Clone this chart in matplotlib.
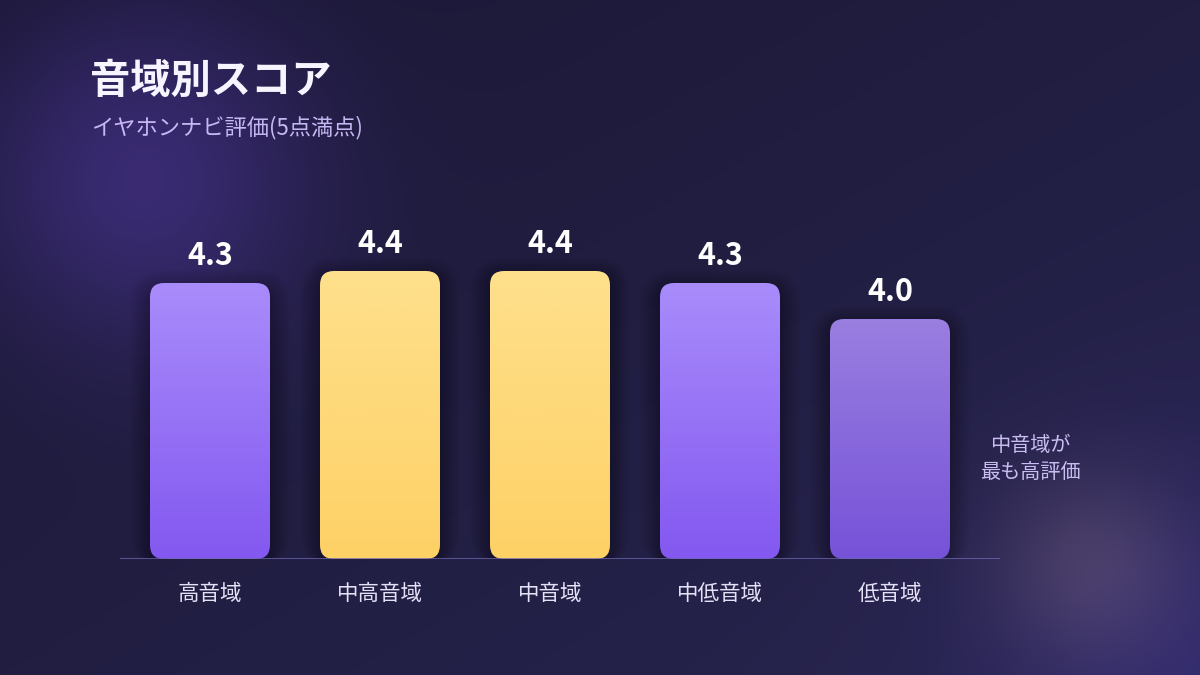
import numpy as np
import matplotlib
matplotlib.use("Agg")
import matplotlib.pyplot as plt
from matplotlib.patches import FancyBboxPatch
from matplotlib.colors import LinearSegmentedColormap

plt.rcParams['font.family'] = ['Noto Sans CJK JP', 'DejaVu Sans']

# データ
categories = ['高音域', '中高音域', '中音域', '中低音域', '低音域']
scores = [4.3, 4.4, 4.4, 4.3, 4.0]
# 棒の色 (上, 下)
bar_colors = [('#a98cfb', '#8358f0'), ('#fee08c', '#fed166'), ('#fee08c', '#fed166'),
              ('#a98cfb', '#8358f0'), ('#9a7fe0', '#7652d8')]

title = '音域別スコア'
subtitle = 'イヤホンナビ評価(5点満点)'
note = '中音域が\n最も高評価'

W, H = 1200, 675
fig = plt.figure(figsize=(12, 6.75), dpi=100)

# 背景のグラデーション
bg = fig.add_axes([0, 0, 1, 1])
yy, xx = np.mgrid[0:H, 0:W]
t = (xx / W * 0.5 + yy / H * 0.5)
base_a = np.array([26, 23, 52]) / 255
base_b = np.array([40, 37, 80]) / 255
img = base_a[None, None, :] * (1 - t[..., None]) + base_b[None, None, :] * t[..., None]
# 左上の紫の光
d1 = np.sqrt((xx - 140) ** 2 + (yy - 175) ** 2)
g1 = np.exp(-(d1 / 170) ** 2)
img += g1[..., None] * (np.array([58, 42, 115]) / 255 - base_a)[None, None, :] * 0.9
# 右下の光
d2 = np.sqrt((xx - 1090) ** 2 + (yy - 565) ** 2)
g2 = np.exp(-(d2 / 95) ** 2)
img += g2[..., None] * np.array([30, 24, 14]) / 255
d3 = np.sqrt((xx - 1200) ** 2 + (yy - 675) ** 2)
g3 = np.exp(-(d3 / 220) ** 2)
img += g3[..., None] * np.array([10, 6, 28]) / 255
bg.imshow(np.clip(img, 0, 1), extent=[0, W, H, 0], aspect='auto')
bg.set_xlim(0, W)
bg.set_ylim(H, 0)
bg.axis('off')

# グラフ領域 (x: 120-1000px, y: 199-559px)
ax = fig.add_axes([120 / W, 1 - 559 / H, 880 / W, 360 / H])
ax.patch.set_alpha(0)
ax.set_xlim(-90 / 170, 4 + 110 / 170)
ax.set_ylim(2.0, 5.0)
for s in ax.spines.values():
    s.set_visible(False)
ax.set_xticks([])
ax.set_yticks([])

bw = 120 / 170
r = 14 / 170
asp = 170 / 120
x = np.arange(len(categories))

for i, (v, (c_top, c_bot)) in enumerate(zip(scores, bar_colors)):
    x0 = x[i] - bw / 2
    # 影
    for k in range(12):
        e = k * 1.8 / 170
        sh = FancyBboxPatch((x0 - e, 2.0 - 6 / 120), bw + 2 * e, v - 2.0 + e * asp,
                            boxstyle=f'round,pad=0,rounding_size={r + e}',
                            mutation_aspect=asp, fc='black', ec='none', alpha=0.018, zorder=1)
        ax.add_patch(sh)
    p = FancyBboxPatch((x0, 2.0), bw, v - 2.0, boxstyle=f'round,pad=0,rounding_size={r}',
                       mutation_aspect=asp, fc='none', ec='none', zorder=2)
    ax.add_patch(p)
    cmap = LinearSegmentedColormap.from_list('g', [c_bot, c_top])
    grad = np.linspace(0, 1, 256).reshape(-1, 1)
    im = ax.imshow(grad, cmap=cmap, origin='lower', extent=[x0, x0 + bw, 2.0, v],
                   aspect='auto', zorder=2)
    im.set_clip_path(p)
    ax.text(x[i], v + 27 / 120, f'{v:.1f}', ha='center', va='center', color='white',
            fontsize=22, fontweight='bold', zorder=3)
    ax.text(x[i], 2.0 - 35 / 120, categories[i], ha='center', va='center',
            color='#e4e0f6', fontsize=15.5, clip_on=False)

ax.axhline(2.0, color='#6e66b0', lw=1.8, zorder=4)
ax.set_xlim(-90 / 170, 4 + 110 / 170)
ax.set_ylim(2.0, 5.0)

# タイトル
fig.text(90 / W, 1 - 81 / H, title, color='#f6f4ff', fontsize=29, fontweight='bold',
         ha='left', va='center')
fig.text(91 / W, 1 - 128 / H, subtitle, color='#c6b8f2', fontsize=16,
         ha='left', va='center')
fig.text(1030 / W, 1 - 459 / H, note, color='#c9bdf2', fontsize=14.5,
         ha='center', va='center', linespacing=1.4)

fig.savefig('out.png', dpi=100)
